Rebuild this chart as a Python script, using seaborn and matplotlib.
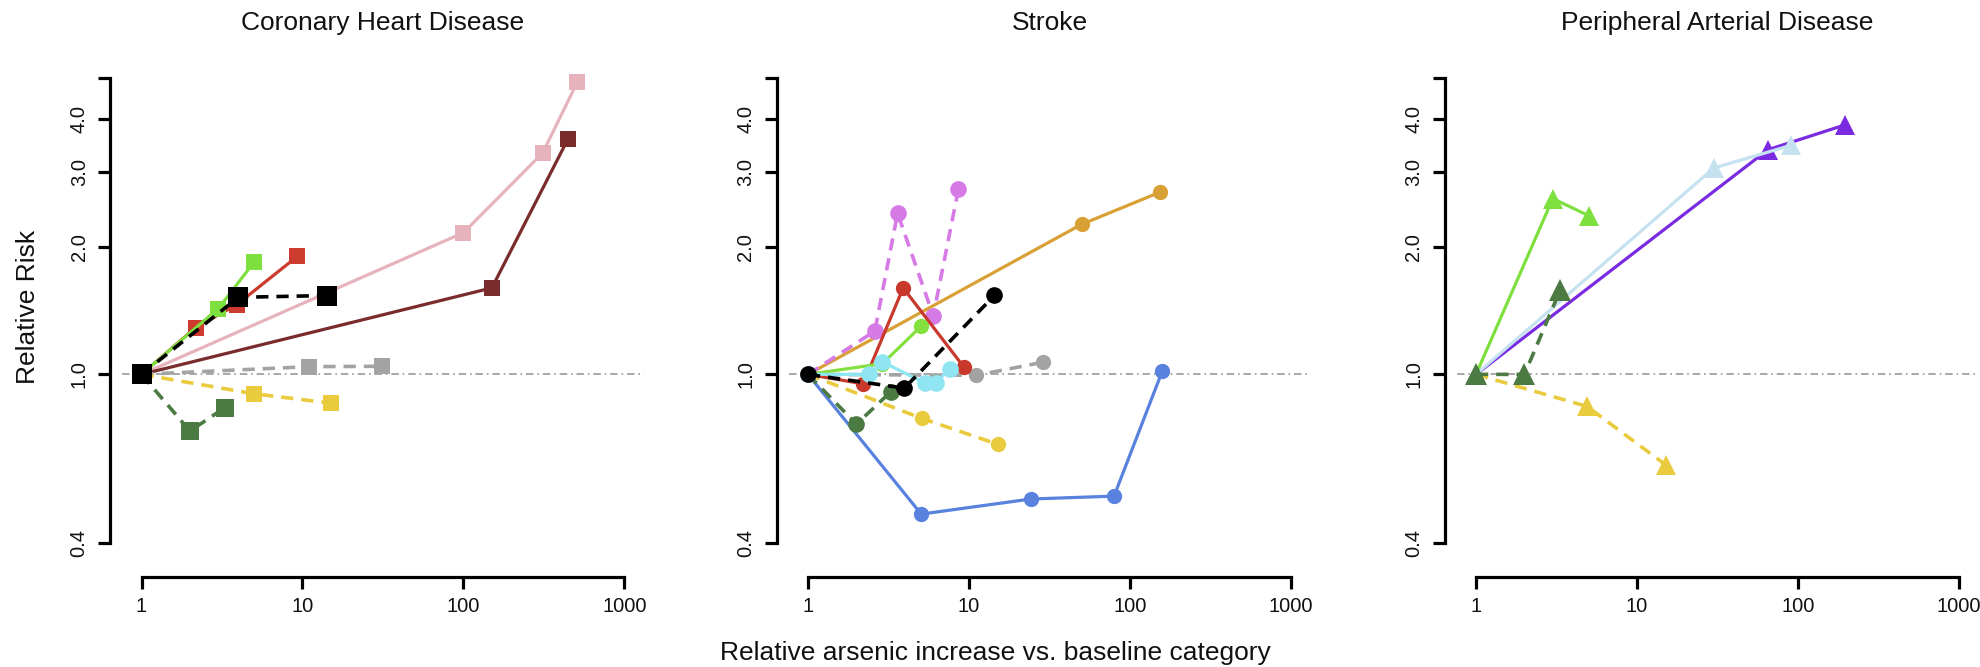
import matplotlib
matplotlib.use("Agg")
import matplotlib.pyplot as plt
import seaborn as sns

sns.set_style("white")
plt.rcParams['font.family'] = ['Liberation Sans', 'DejaVu Sans']

# ---- data (relative arsenic increase, relative risk) ----
# Coronary Heart Disease (squares)
chd_pink_x = [1, 100, 310, 510]
chd_pink_y = [1, 2.16, 3.33, 4.90]
chd_maroon_x = [1, 150, 445]
chd_maroon_y = [1, 1.60, 3.59]
chd_red_x = [1, 2.17, 3.9, 9.3]
chd_red_y = [1, 1.29, 1.46, 1.90]
chd_green_x = [1, 3.0, 5.0]
chd_green_y = [1, 1.43, 1.84]
chd_gray_x = [1, 11, 31]
chd_gray_y = [1, 1.043, 1.045]
chd_yellow_x = [1, 5.0, 15.1]
chd_yellow_y = [1, 0.90, 0.855]
chd_dkgreen_x = [1, 2.0, 3.3]
chd_dkgreen_y = [1, 0.735, 0.835]
chd_black_x = [1, 4.0, 14.1]
chd_black_y = [1, 1.52, 1.535]

# Stroke (circles)
stk_blue_x = [1, 5.05, 24.3, 79.6, 159]
stk_blue_y = [1, 0.468, 0.508, 0.516, 1.02]
stk_orange_x = [1, 50, 153]
stk_orange_y = [1, 2.26, 2.69]
stk_yellow_x = [1, 5.1, 15.1]
stk_yellow_y = [1, 0.787, 0.684]
stk_dkgreen_x = [1, 2.0, 3.27]
stk_dkgreen_y = [1, 0.763, 0.91]
stk_gray_x = [1, 11.1, 28.7]
stk_gray_y = [1, 0.995, 1.068]
stk_violet_x = [1, 2.6, 3.6, 6.0, 8.6]
stk_violet_y = [1, 1.265, 2.40, 1.375, 2.74]
stk_red_x = [1, 2.2, 3.9, 9.3]
stk_red_y = [1, 0.95, 1.60, 1.04]
stk_green_x = [1, 2.9, 5.05]
stk_green_y = [1, 1.06, 1.30]
stk_cyan_x = [1, 2.4, 2.9, 5.3, 6.2, 7.6]
stk_cyan_y = [1, 1.0, 1.07, 0.955, 0.955, 1.03]
stk_black_x = [1, 3.97, 14.4]
stk_black_y = [1, 0.928, 1.536]

# Peripheral Arterial Disease (triangles)
pad_yellow_x = [1, 4.9, 15.2]
pad_yellow_y = [1, 0.84, 0.61]
pad_green_x = [1, 3.0, 5.0]
pad_green_y = [1, 2.60, 2.37]
pad_purple_x = [1, 65, 196]
pad_purple_y = [1, 3.39, 3.88]
pad_ltblue_x = [1, 30, 90]
pad_ltblue_y = [1, 3.07, 3.47]
pad_dkgreen_x = [1, 2.0, 3.33]
pad_dkgreen_y = [1, 1.0, 1.58]

titles = ["Coronary Heart Disease", "Stroke", "Peripheral Arterial Disease"]
x_ticks = [1, 10, 100, 1000]
x_ticklabels = ["1", "10", "100", "1000"]
y_ticks = [0.4, 1.0, 2.0, 3.0, 4.0, 5.0]
y_ticklabels = ["0.4", "1.0", "2.0", "3.0", "4.0", ""]

SOLID = "-"
DASH = (0, (3.4, 2.2))

panels = [
    ("s", [
        (chd_pink_x, chd_pink_y, "#e6b3bd", SOLID, 12),
        (chd_maroon_x, chd_maroon_y, "#7a2b2b", SOLID, 12),
        (chd_red_x, chd_red_y, "#cc3b2e", SOLID, 12),
        (chd_green_x, chd_green_y, "#7ee03e", SOLID, 12),
        (chd_gray_x, chd_gray_y, "#a3a3a3", DASH, 12),
        (chd_yellow_x, chd_yellow_y, "#eacb3e", DASH, 12),
        (chd_dkgreen_x, chd_dkgreen_y, "#4b7a43", DASH, 13),
        (chd_black_x, chd_black_y, "#000000", DASH, 14),
    ]),
    ("o", [
        (stk_blue_x, stk_blue_y, "#5882dd", SOLID, 11),
        (stk_orange_x, stk_orange_y, "#d9a035", SOLID, 11),
        (stk_yellow_x, stk_yellow_y, "#eacb3e", DASH, 11),
        (stk_dkgreen_x, stk_dkgreen_y, "#4b7a43", DASH, 12),
        (stk_gray_x, stk_gray_y, "#a3a3a3", DASH, 11),
        (stk_violet_x, stk_violet_y, "#d67ae6", DASH, 12),
        (stk_red_x, stk_red_y, "#c8392c", SOLID, 11),
        (stk_green_x, stk_green_y, "#84e03e", SOLID, 11),
        (stk_cyan_x, stk_cyan_y, "#8fe6f2", SOLID, 12),
        (stk_black_x, stk_black_y, "#000000", DASH, 12),
    ]),
    ("^", [
        (pad_yellow_x, pad_yellow_y, "#eacb3e", DASH, 15),
        (pad_green_x, pad_green_y, "#7ee03e", SOLID, 15),
        (pad_purple_x, pad_purple_y, "#7a2be2", SOLID, 15),
        (pad_ltblue_x, pad_ltblue_y, "#c6e2f0", SOLID, 15),
        (pad_dkgreen_x, pad_dkgreen_y, "#4b7a43", DASH, 16),
    ]),
]

W, H = 1980, 667
fig = plt.figure(figsize=(W / 100, H / 100), dpi=100)

x_one = [141.5, 808, 1476]   # pixel position of x = 1 in each panel
decade = 161.0
top_px, bot_px = 59.7, 561.6

for i, (marker, series) in enumerate(panels):
    left = x_one[i] - 0.12 * decade
    ax = fig.add_axes([left / W, (H - bot_px) / H, 3.24 * decade / W, (bot_px - top_px) / H])
    ax.set_xscale("log")
    ax.set_yscale("log")
    ax.set_xlim(10 ** -0.12, 10 ** 3.12)
    ax.set_ylim(0.3615, 5.53)

    ax.axhline(1, color="#9a9a9a", lw=1.2, linestyle=(0, (4.5, 2.3, 1, 2.3)), zorder=1)

    for xs, ys, col, ls, ms in series:
        lw = 2.6 if ls is DASH else 2.3
        sns.lineplot(x=xs, y=ys, ax=ax, color=col, linestyle=ls, lw=lw,
                     marker=marker, markersize=ms, markeredgewidth=0,
                     estimator=None, sort=False, zorder=3)

    for side in ("top", "right"):
        ax.spines[side].set_visible(False)
    ax.spines["left"].set_position(("outward", 8.6))
    ax.spines["bottom"].set_position(("outward", 11.2))
    ax.spines["left"].set_bounds(0.4, 5.0)
    ax.spines["bottom"].set_bounds(1, 1000)
    for side in ("left", "bottom"):
        ax.spines[side].set_linewidth(2.3)
        ax.spines[side].set_color("black")

    ax.set_xticks(x_ticks)
    ax.set_xticklabels(x_ticklabels)
    ax.set_yticks(y_ticks)
    ax.set_yticklabels(y_ticklabels)
    ax.minorticks_off()
    ax.tick_params(axis="both", which="major", direction="out", length=8.5, width=2.3,
                   color="black", labelsize=14.5, labelcolor="#111111",
                   bottom=True, left=True, top=False, right=False)
    ax.tick_params(axis="x", pad=5.5)
    ax.tick_params(axis="y", labelrotation=90, pad=7)
    for lab in ax.get_yticklabels():
        lab.set_va("center")
    ax.set_xlabel("")
    ax.set_ylabel("")
    ax.grid(False)

    cx = (left + 3.24 * decade / 2) / W
    fig.text(cx, 1 - 23 / H, titles[i], ha="center", va="center", fontsize=19, color="#111111")

fig.text(995 / W, 1 - 653 / H, "Relative arsenic increase vs. baseline category",
         ha="center", va="center", fontsize=19, color="#111111")
fig.text(28 / W, 1 - 307 / H, "Relative Risk", rotation=90,
         ha="center", va="center", fontsize=19, color="#111111")

fig.savefig("out.png", dpi=100, facecolor="white")
